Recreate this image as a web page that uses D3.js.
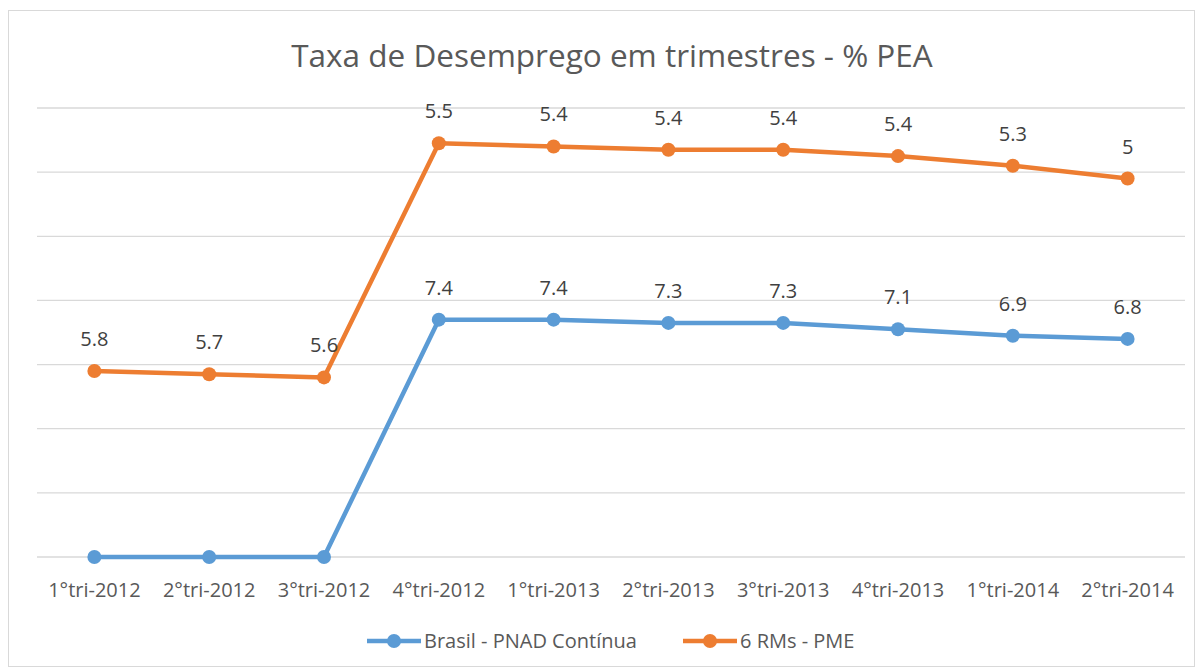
<!DOCTYPE html>
<html>
<head>
<meta charset="utf-8">
<script src="https://cdn.jsdelivr.net/npm/d3@7"></script>
<style>
  body { margin: 0; background: #fff; }
  text { font-family: "Open Sans", "Noto Sans", sans-serif; }
</style>
</head>
<body>
<script>
// categories and series (blank cells in the first series are plotted as 0, stacked line chart)
const quarters = ["1°tri-2012", "2°tri-2012", "3°tri-2012", "4°tri-2012", "1°tri-2013",
                  "2°tri-2013", "3°tri-2013", "4°tri-2013", "1°tri-2014", "2°tri-2014"];
const brasil = [null, null, null, 7.4, 7.4, 7.3, 7.3, 7.1, 6.9, 6.8];
const rms = [5.8, 5.7, 5.6, 5.5, 5.4, 5.4, 5.4, 5.4, 5.3, 5];
const seriesNames = ["Brasil - PNAD Contínua", "6 RMs - PME"];
const colors = ["#5B9BD5", "#ED7D31"];
const yTicks = [0, 2, 4, 6, 8, 10, 12, 14];

const width = 1203, height = 672;
const fs = "20px";

const svg = d3.select("body").append("svg")
    .attr("width", width)
    .attr("height", height);

// chart frame
svg.append("rect")
    .attr("x", 8.5).attr("y", 10.5)
    .attr("width", 1186).attr("height", 656)
    .attr("fill", "#fff")
    .attr("stroke", "#d9d9d9");

svg.append("text")
    .attr("x", 612).attr("y", 67)
    .attr("text-anchor", "middle")
    .attr("fill", "#595959")
    .style("font-size", "31.5px")
    .text("Taxa de Desemprego em trimestres - % PEA");

let x = d3.scaleBand()
    .domain(quarters)
    .range([37, 1185]);

let y = d3.scaleLinear()
    .domain([0, 14])
    .range([557, 108]);

// gridlines
svg.append("g")
    .selectAll("line")
    .data(yTicks)
    .enter()
    .append("line")
        .attr("x1", 37).attr("x2", 1185)
        .attr("y1", d => y(d)).attr("y2", d => y(d))
        .attr("stroke", "#d9d9d9")
        .attr("stroke-width", 1.3);

// x axis labels
svg.append("g")
    .attr("transform", "translate(0,557)")
    .call(d3.axisBottom(x).tickSize(0).tickPadding(0))
    .call(g => g.select(".domain").remove())
    .selectAll("text")
        .attr("y", 40)
        .attr("dy", 0)
        .attr("fill", "#595959")
        .style("font-size", fs)
        .style("font-family", "'Open Sans', sans-serif");

// stacked values
let table = quarters.map((q, i) => ({ q: q, a: brasil[i] || 0, b: rms[i] }));
let stacked = d3.stack().keys(["a", "b"])(table);
let raw = [brasil, rms];

let line = d3.line()
    .x(d => x(d.data.q) + x.bandwidth() / 2)
    .y(d => y(d[1]));

stacked.forEach((s, k) => {
    let g = svg.append("g");
    g.append("path")
        .datum(s)
        .attr("fill", "none")
        .attr("stroke", colors[k])
        .attr("stroke-width", 4.5)
        .attr("stroke-linejoin", "round")
        .attr("d", line);
    g.selectAll("circle")
        .data(s)
        .enter()
        .append("circle")
            .attr("cx", d => x(d.data.q) + x.bandwidth() / 2)
            .attr("cy", d => y(d[1]))
            .attr("r", 7)
            .attr("fill", colors[k]);
    g.selectAll("text")
        .data(s.filter((d, i) => raw[k][i] != null))
        .enter()
        .append("text")
            .attr("x", d => x(d.data.q) + x.bandwidth() / 2)
            .attr("y", d => y(d[1]) - 25)
            .attr("text-anchor", "middle")
            .attr("fill", "#404040")
            .style("font-size", fs)
            .text((d, i) => {
                let v = raw[k].filter(v => v != null)[i];
                return d3.format("~g")(v);
            });
});

// legend
let legendX = [367, 683];
seriesNames.forEach((name, k) => {
    let lg = svg.append("g").attr("transform", `translate(${legendX[k]},641)`);
    lg.append("line")
        .attr("x1", 0).attr("x2", 54)
        .attr("stroke", colors[k])
        .attr("stroke-width", 4.5);
    lg.append("circle")
        .attr("cx", 27).attr("r", 7)
        .attr("fill", colors[k]);
    lg.append("text")
        .attr("x", 57).attr("y", 7)
        .attr("fill", "#595959")
        .style("font-size", fs)
        .text(name);
});
</script>
</body>
</html>
